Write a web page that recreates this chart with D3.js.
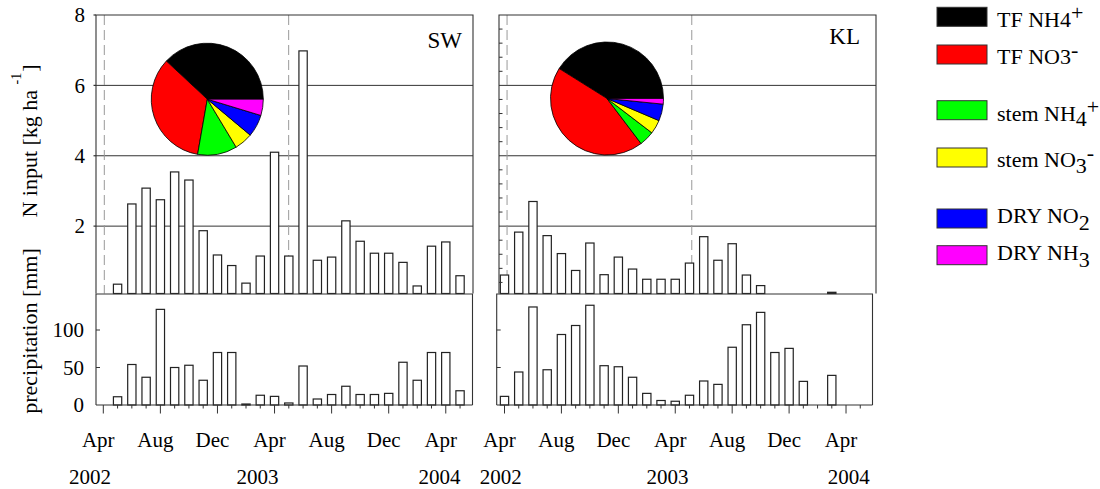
<!DOCTYPE html>
<html><head><meta charset="utf-8">
<script src="https://cdn.jsdelivr.net/npm/d3@7"></script>
<style>body{margin:0;background:#fff;} svg{display:block;font-family:"Liberation Serif","Times New Roman",serif;}</style>
</head><body><svg id="c" width="1100" height="489"></svg>
<script>
// ---------- data ----------
const months = ["2002-04","2002-05","2002-06","2002-07","2002-08","2002-09","2002-10","2002-11","2002-12",
  "2003-01","2003-02","2003-03","2003-04","2003-05","2003-06","2003-07","2003-08","2003-09","2003-10","2003-11","2003-12",
  "2004-01","2004-02","2004-03","2004-04","2004-05"];
const swNinput = [null,0.35,2.63,3.08,2.75,3.54,3.31,1.87,1.18,0.88,0.38,1.15,4.10,1.15,6.98,1.03,1.12,2.15,1.57,1.23,1.23,0.97,0.30,1.43,1.55,0.59];
const swPrecip = [null,11,54,37,127.5,50,53,33,70,70,1.3,13,11.5,2.7,52,8,14,25,14,14,15.5,57,33,70,70,19];
const klNinput = [0.61,1.83,2.70,1.73,1.22,0.74,1.52,0.62,1.12,0.78,0.49,0.49,0.49,0.95,1.70,1.03,1.50,0.61,0.31,0,0,0,0,0.12,0,0];
const klPrecip = [11.5,44,130.7,47,94,106,133,52.4,51,37,15.5,6,5,13,32,27.5,77,107,123.5,70,75.5,31.5,0,39.5,0,0];
const components = ["TF NH4+","TF NO3-","stem NH4+","stem NO3-","DRY NO2","DRY NH3"];
const compColors = ["#000000","#ff0000","#00ff00","#ffff00","#0000ff","#ff00ff"];
const swShares = [38.1,34.2,11.4,5.3,6.4,4.7];
const klShares = [41.1,44.2,4.3,4.0,4.8,1.6];
const nTicks = [2,4,6,8];
const pTicks = [0,50,100];
const monthTickIdx = [0,4,8,12,16,20,24];
const monthTickLabels = ["Apr","Aug","Dec","Apr","Aug","Dec","Apr"];
const yearLabels = ["2002","2003","2004"];

// ---------- drawing ----------
const svg = d3.select("#c");
const LINE = "#333";
const yTop = d3.scaleLinear().domain([0,8]).range([296.5,15]);
const yBot = d3.scaleLinear().domain([0,150]).range([405,292.5]);
const TOPB = 293.5;

function panel(cfg){
  const x = d3.scaleLinear().domain([0,24]).range([cfg.x0, cfg.x0 + 24*cfg.mw]);
  const g = svg.append("g");
  const [tl,tr] = cfg.topBox, [bl,br] = cfg.botBox;
  const bw = 8.3;
  g.selectAll(".grid").data([2,4,6]).join("line")
    .attr("x1",tl).attr("x2",tr).attr("y1",d=>yTop(d)).attr("y2",d=>yTop(d))
    .attr("stroke",LINE).attr("stroke-width",1);
  g.selectAll(".dash").data(cfg.dashes).join("line")
    .attr("x1",d=>x(d)).attr("x2",d=>x(d)).attr("y1",15).attr("y2",TOPB)
    .attr("stroke","#999").attr("stroke-width",1).attr("stroke-dasharray","10,5");
  const nd = cfg.ninput.map((v,i)=>({v,i})).filter(d=>d.v!==null && d.v>0);
  g.selectAll(".nb").data(nd).join("rect")
    .attr("x",d=>x(d.i)-bw/2).attr("width",bw)
    .attr("y",d=>yTop(d.v)).attr("height",d=>Math.max(0,TOPB-yTop(d.v)))
    .attr("fill","#fff").attr("stroke","#222").attr("stroke-width",1.2);
  const pd = cfg.precip.map((v,i)=>({v,i})).filter(d=>d.v!==null && d.v>0);
  g.selectAll(".pb").data(pd).join("rect")
    .attr("x",d=>x(d.i)-bw/2).attr("width",bw)
    .attr("y",d=>yBot(d.v)).attr("height",d=>yBot(0)-yBot(d.v))
    .attr("fill","#fff").attr("stroke","#222").attr("stroke-width",1.2);
  const pie = d3.pie().sort(null).startAngle(Math.PI/2).endAngle(Math.PI/2 - 2*Math.PI);
  const arc = d3.arc().innerRadius(0).outerRadius(cfg.r);
  g.append("g").attr("transform",`translate(${cfg.pc[0]},${cfg.pc[1]})`)
    .selectAll("path").data(pie(cfg.shares)).join("path")
    .attr("d",arc).attr("fill",(d,i)=>compColors[i]).attr("stroke","#000").attr("stroke-width",0.8);
  const path = (pts)=>g.append("path").attr("d",d3.line()(pts)).attr("fill","none").attr("stroke",LINE).attr("stroke-width",1.1);
  path([[tl,TOPB],[tl,15],[tr,15],[tr,TOPB]]);
  path([[bl,405],[bl,TOPB+0.5],[br,TOPB+0.5],[br,405]]);
  path([[bl,405],[br,405]]);
  const allM = d3.range(0,26);
  g.selectAll(".xt").data(allM).join("line")
    .attr("x1",d=>x(d)).attr("x2",d=>x(d)).attr("y1",405)
    .attr("y2",d=>monthTickIdx.includes(d)?413.5:408.5)
    .attr("stroke",LINE).attr("stroke-width",1);
  g.selectAll(".xl").data(monthTickIdx).join("text")
    .attr("x",d=>x(d)-5).attr("y",447).attr("text-anchor","middle")
    .attr("font-size",21).text((d,i)=>monthTickLabels[i]);
  g.selectAll(".yl").data(yearLabels).join("text")
    .attr("x",(d,i)=>x(cfg.yearPos[i])).attr("y",484).attr("text-anchor","middle")
    .attr("font-size",21).text(d=>d);
  g.selectAll(".pt").data(pTicks.filter(d=>d>0)).join("line")
    .attr("x1",bl).attr("x2",bl+4).attr("y1",d=>yBot(d)).attr("y2",d=>yBot(d))
    .attr("stroke",LINE).attr("stroke-width",1);
  if(cfg.labels){
    g.selectAll(".ntl").data(nTicks).join("text")
      .attr("x",85).attr("y",d=>yTop(d)+7.2).attr("text-anchor","end")
      .attr("font-size",21).text(d=>d);
    g.selectAll(".ntk").data(nTicks).join("line")
      .attr("x1",tl-2.5).attr("x2",tl).attr("y1",d=>yTop(d)).attr("y2",d=>yTop(d))
      .attr("stroke",LINE).attr("stroke-width",1.2);
    g.selectAll(".ptl").data(pTicks).join("text")
      .attr("x",84).attr("y",d=>yBot(d)+7.2).attr("text-anchor","end")
      .attr("font-size",21).text(d=>d);
  } else {
    const minor = d3.range(1,20).map(k=>k*0.4).filter(v=>Math.abs(v/2-Math.round(v/2))>1e-6);
    g.selectAll(".mt").data(minor).join("line")
      .attr("x1",tl).attr("x2",tl+3.5).attr("y1",d=>yTop(d)).attr("y2",d=>yTop(d))
      .attr("stroke",LINE).attr("stroke-width",1);
  }
  g.append("text").attr("x",cfg.title[1]).attr("y",cfg.title[2]).attr("text-anchor","end")
    .attr("font-size",23).text(cfg.title[0]);
}

panel({x0:103.3, mw:14.27, topBox:[96,473], botBox:[96,472.5], dashes:[0.07,12.99],
  ninput:swNinput, precip:swPrecip, shares:swShares, pc:[207.3,99.2], r:56,
  title:["SW",462,47.7], labels:true, yearPos:[-0.93,10.8,23.56]});
panel({x0:504.5, mw:14.23, topBox:[499,876], botBox:[496.7,872.5], dashes:[0.18,13.16],
  ninput:klNinput, precip:klPrecip, shares:klShares, pc:[607,98.5], r:56.5,
  title:["KL",860,44.3], labels:false, yearPos:[-0.26,11.45,24.2]});

const t1 = svg.append("text").attr("transform","translate(37,141) rotate(-90)")
  .attr("text-anchor","middle").attr("font-size",22);
t1.append("tspan").text("N input [kg ha ");
t1.append("tspan").attr("font-size",14).attr("dy",-16).text("-1");
t1.append("tspan").attr("dy",16).attr("dx",1).text("]");
svg.append("text").attr("transform","translate(37,331) rotate(-90)")
  .attr("text-anchor","middle").attr("font-size",22).text("precipitation [mm]");

const legY = [7.3,45,100.7,148,209,245.7];
const legBase = [26.7,64,120.7,167.3,222.7,260];
const legParts = [
  [["TF NH4",0],["+",-7]],
  [["TF NO3",0],["-",-7]],
  [["stem NH",0],["4",5.5],["+",-6.7]],
  [["stem NO",0],["3",5.5],["-",-7]],
  [["DRY NO",0],["2",7.3]],
  [["DRY NH",0],["3",6.7]]
];
const lg = svg.append("g");
components.forEach((c,i)=>{
  lg.append("rect").attr("x",937).attr("y",legY[i]).attr("width",50).attr("height",19)
    .attr("fill",compColors[i]).attr("stroke","#333").attr("stroke-width",1);
  const t = lg.append("text").attr("x",997).attr("y",legBase[i]).attr("font-size",22);
  let prev = 0;
  legParts[i].forEach(([s,off])=>{
    t.append("tspan").attr("dy",off-prev).text(s);
    prev = off;
  });
});
</script></body></html>
